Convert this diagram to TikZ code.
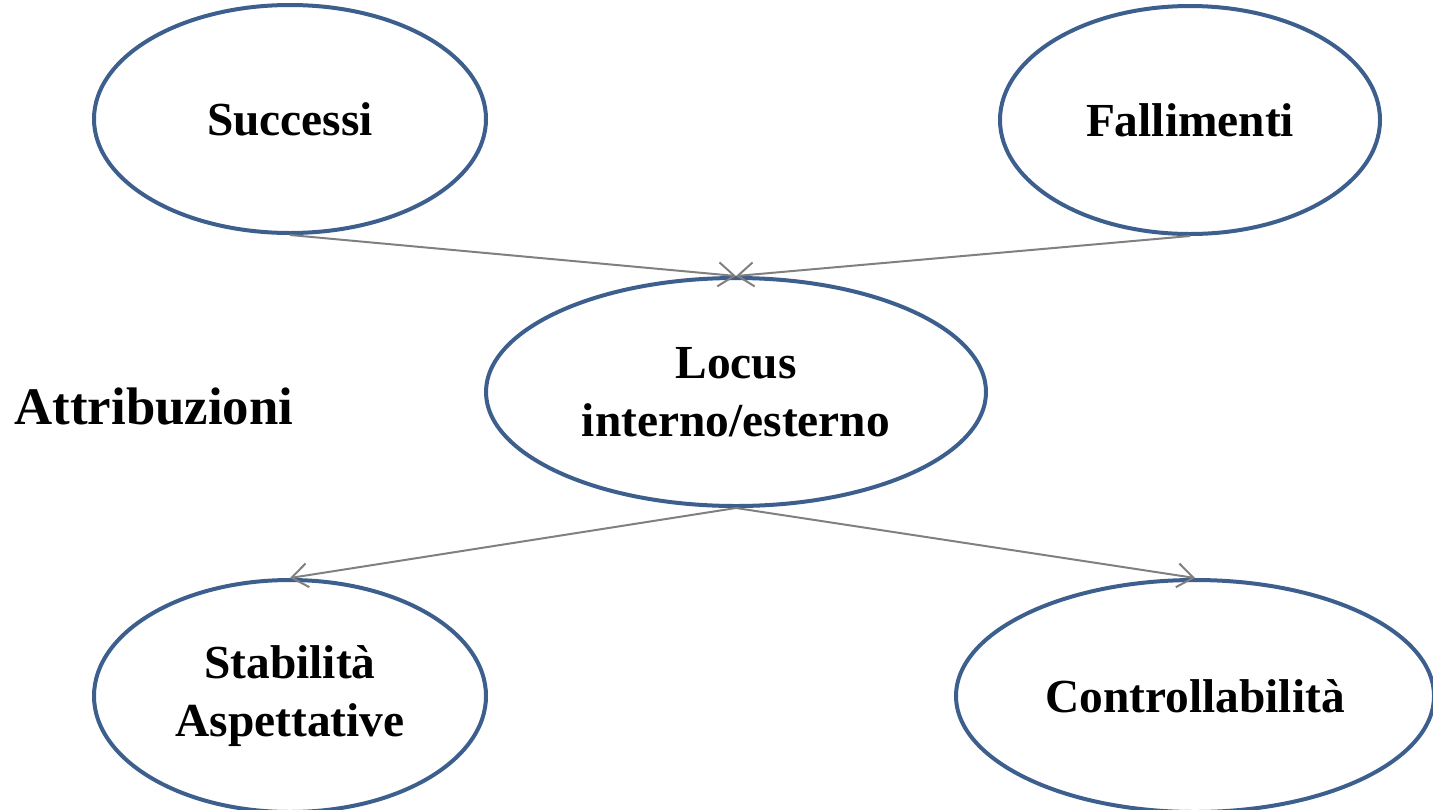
\documentclass[tikz,border=0pt]{standalone}
\usepackage{fontspec}
\setmainfont{Liberation Serif}
\usepackage{tikz}
\usetikzlibrary{shapes.geometric,arrows.meta}
\definecolor{Rim}{HTML}{3C5F8E}
\definecolor{Link}{HTML}{808080}

\begin{document}
\begin{tikzpicture}[
    x=0.5pt,
    y=-0.5pt,
    every node/.style={font=\fontsize{23.7}{29}\selectfont\bfseries},
    oval/.style={ellipse, draw=Rim, line width=2pt, fill=white,
                 align=center, inner sep=0pt},
    link/.style={-{Straight Barb[length=8pt,width=12pt]}, Link, line width=1pt}
]
\useasboundingbox (0,0) rectangle (1433,809);

% Top row
\node[oval, minimum width=196pt, minimum height=114pt] (nSucc) at (290,119) {Successi};
\node[oval, minimum width=190pt, minimum height=114pt] (nFall) at (1190,120) {Fallimenti};

% Middle
\node[oval, minimum width=250pt, minimum height=114pt] (nLocus) at (736,392) {Locus\\interno/esterno};
\node[font=\fontsize{26.4}{30}\selectfont\bfseries] (nAttr) at (154,406) {Attribuzioni};

% Bottom row
\node[oval, minimum width=196pt, minimum height=116pt] (nStab) at (290,696) {Stabilità\\Aspettative};
\node[oval, minimum width=239pt, minimum height=116pt] (nCont) at (1195,696) {Controllabilità};

% Connectors
\draw[link] (nSucc.south) -- (nLocus.north);
\draw[link] (nFall.south) -- (nLocus.north);
\draw[link] (nLocus.south) -- (nStab.north);
\draw[link] (nLocus.south) -- (nCont.north);

\end{tikzpicture}
\end{document}
